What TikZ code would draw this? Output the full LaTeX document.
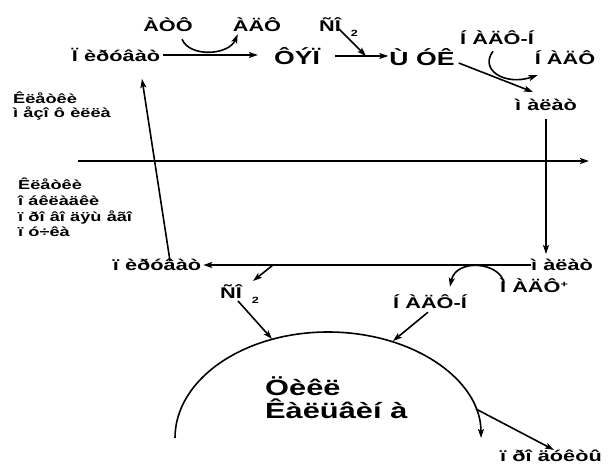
\documentclass[tikz,border=0pt]{standalone}
\usepackage{fontspec}
\newfontfamily\lab{Liberation Sans}[FakeStretch=1.4]
\usetikzlibrary{arrows.meta,calc}
\newcommand\gapx{\hspace{0.4em}}
\tikzset{
  lbl/.style={font=\lab\bfseries\fontsize{15.5}{17}\selectfont, inner sep=0pt},
  bigl/.style={font=\lab\bfseries\fontsize{19}{21}\selectfont, inner sep=0pt},
  hugel/.style={font=\lab\bfseries\fontsize{22}{23}\selectfont, inner sep=0pt, align=left},
  sidel/.style={font=\lab\bfseries\fontsize{13}{14}\selectfont, inner sep=0pt, align=left},
  sidel2/.style={font=\lab\bfseries\fontsize{13}{15.6}\selectfont, inner sep=0pt, align=left},
  arr/.style={-{Stealth[length=9pt,width=6pt,inset=2pt]}, line width=1.6pt},
  ln/.style={line width=1.6pt}
}
\begin{document}
\begin{tikzpicture}[x=1pt,y=-1pt]
\useasboundingbox (0,0) rectangle (613,466);
% upper (mesophyll) texts
\node[lbl] (atp) at (168,25) {ÀÒÔ};
\node[lbl] (adp) at (257,25) {ÀÄÔ};
\node[lbl] (pyr) at (116,55) {Ï\gapx èðóâàò};
\node[bigl] (pep) at (297,56) {ÔÝÏ};
\node[lbl, anchor=base west] (co2a) at (319,31) {ÑÎ\hspace{10pt}\raisebox{-5pt}{\fontsize{9}{9}\selectfont 2}};
\node[bigl] (oaa) at (422,57) {Ù ÓÊ};
\node[lbl] (nadphu) at (497,38) {Í\gapx ÀÄÔ-Í};
\node[lbl] (nadpu) at (565,58) {Í\gapx ÀÄÔ};
\node[lbl] (malu) at (546,105) {ì\gapx àëàò};
\node[sidel, anchor=north west] (meso) at (13,92) {Êëåòêè\\ì\gapx åçî\gapx ô\gapx èëëà};
\node[sidel2, anchor=north west] (bund) at (18,178) {Êëåòêè\\î\gapx áêëàäêè\\ï\gapx ðî\gapx âî\gapx äÿù\gapx åãî\\ï\gapx ó÷êà};
% lower (bundle sheath) texts
\node[lbl] (pyrl) at (157,265) {ï\gapx èðóâàò};
\node[lbl] (mall) at (562,265) {ì\gapx àëàò};
\node[lbl, anchor=base west] (co2b) at (220,298) {ÑÎ\hspace{10pt}\raisebox{-5pt}{\fontsize{9}{9}\selectfont 2}};
\node[lbl] (nadp) at (534,286) {Ì\gapx ÀÄÔ\raisebox{5pt}{\fontsize{9}{9}\selectfont +}};
\node[lbl] (nadphl) at (430,302) {Í\gapx ÀÄÔ-Í};
\node[hugel, anchor=west] (calvin) at (265,398) {Öèêë\\Êàëüâèí\gapx à};
\node[lbl] (prod) at (551,456) {ï\gapx ðî\gapx äóêòû};
% coordinates
\coordinate (j1) at (366,56);
\coordinate (dl) at (78,161);
\coordinate (dr) at (589,161);
\coordinate (j2) at (273,265);
\coordinate (k1) at (272,339);
\coordinate (k2) at (393,341);
\coordinate (k3) at (476,409);
\coordinate (arcL) at (175,438);
% connectors upper
\draw[arr] ($(atp.south)+(14,7)$) .. controls (190,58) and (229,55) .. ($(adp.south west)+(5,2)$);
\draw[arr, shorten <=3pt, shorten >=16pt] (pyr.east) -- (pyr.east -| pep.west);
\draw[arr, shorten <=15pt, shorten >=1pt] (pep.east) -- (pep.east -| oaa.west);
\draw[arr] ($(co2a.base west)+(20,-2)$) -- (j1);
\draw[arr] ($(oaa.east)+(4,6)$) -- ($(malu.center)+(-13,-13)$);
\draw[arr] ($(nadphu.south)+(-4,6)$) .. controls (479,70) and (505,86) .. ($(nadpu.south west)+(3,10)$);
\draw[arr, shorten <=8pt, shorten >=5pt] (malu.south) -- (malu.south |- mall.north);
\draw[arr] (dl) -- (dr);
\draw[arr] ($(pyrl.north)+(13,2)$) -- ($(pyr.south)+(26,17)$);
% connectors lower
\draw[arr, shorten >=2pt] (mall.west) -- (mall.west -| pyrl.east);
\draw[arr] (j2) -- ($(co2b.base west)+(33,-17)$);
\draw[arr] ($(co2b.base west)+(18,3)$) -- (k1);
\draw[arr] ($(nadp.north west)+(4,4)$) .. controls (500,262) and (456,258) .. ($(nadphl.north)+(20,-8)$);
\draw[arr] ($(nadphl.south)+(-2,3)$) -- (k2);
\draw[arr] (arcL) arc[start angle=180, end angle=0, x radius=153pt, y radius=106pt];
\draw[arr] (k3) -- ($(prod.north)+(3,0)$);
\end{tikzpicture}
\end{document}
